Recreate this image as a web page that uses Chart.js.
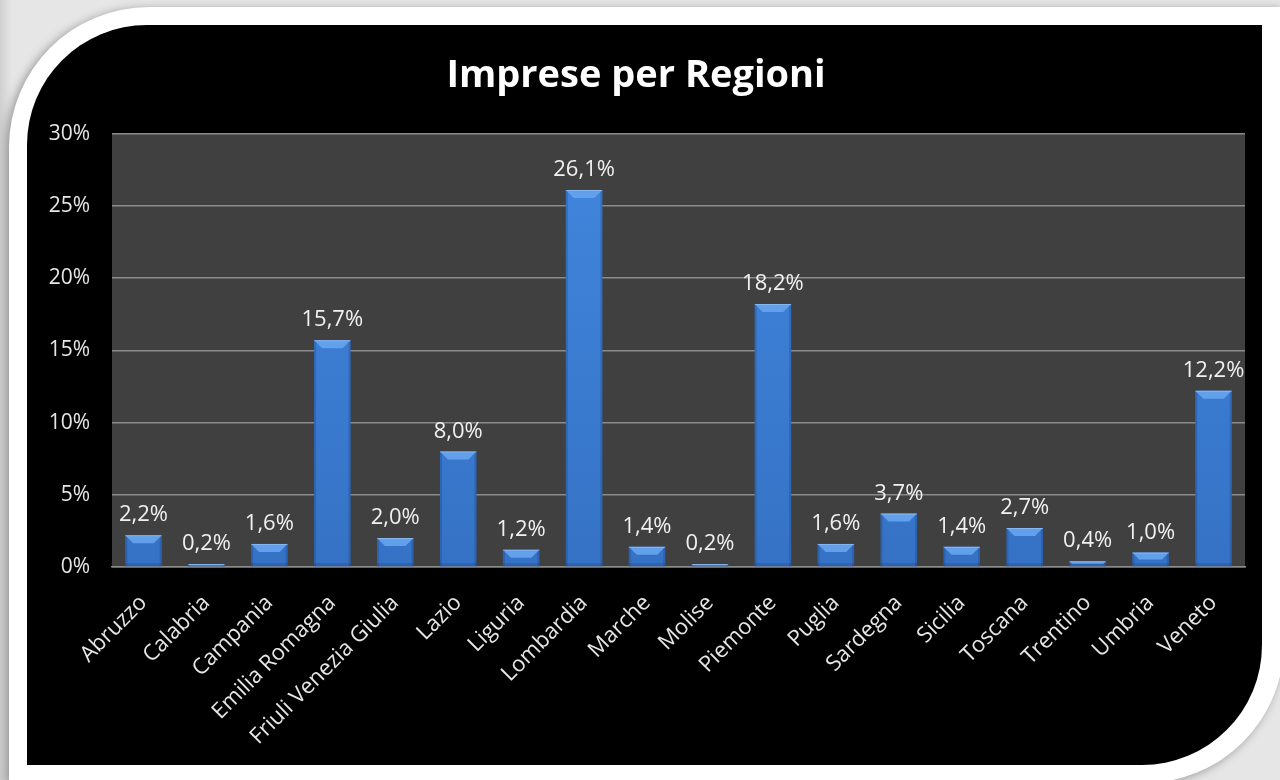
<!DOCTYPE html>
<html>
<head>
<meta charset="utf-8">
<script src="https://cdn.jsdelivr.net/npm/chart.js@4.4.0/dist/chart.umd.min.js"></script>
<style>
  html, body { margin: 0; padding: 0; }
  body {
    width: 1280px; height: 780px; overflow: hidden;
    background: linear-gradient(90deg, #cfcfcf 0px, #e6e6e6 12px, #e6e6e6 100%);
    position: relative;
  }
  #card {
    position: absolute; left: 9px; top: 7px; width: 1275px; height: 776px;
    background: #fff;
    border-radius: 140px 0 140px 0;
    box-shadow: -3px 2px 10px rgba(0,0,0,0.35);
  }
  #panel {
    position: absolute; left: 27px; top: 25px; width: 1235px; height: 740px;
    background: #000;
    border-radius: 120px 0 120px 0;
  }
  #panel canvas { position: absolute; left: 0; top: 0; }
</style>
</head>
<body>
<div id="card"></div>
<div id="panel"><canvas id="chart" width="1235" height="740"></canvas></div>
<script>
const regions = ['Abruzzo', 'Calabria', 'Campania', 'Emilia Romagna', 'Friuli Venezia Giulia',
  'Lazio', 'Liguria', 'Lombardia', 'Marche', 'Molise', 'Piemonte', 'Puglia', 'Sardegna',
  'Sicilia', 'Toscana', 'Trentino', 'Umbria', 'Veneto'];
const shares = [2.2, 0.2, 1.6, 15.7, 2.0, 8.0, 1.2, 26.1, 1.4, 0.2, 18.2, 1.6, 3.7, 1.4, 2.7, 0.4, 1.0, 12.2];
const yTicks = [0, 5, 10, 15, 20, 25, 30];

const FONT = '"Open Sans", "DejaVu Sans", sans-serif';
const fmt = v => v.toFixed(1).replace('.', ',') + '%';

// dark plot background
const plotBg = {
  id: 'plotBg',
  beforeDraw(chart) {
    const { ctx, chartArea: a } = chart;
    ctx.save();
    ctx.fillStyle = '#404040';
    ctx.fillRect(a.left, a.top, a.right - a.left, a.bottom - a.top);
    ctx.restore();
  }
};

// bevelled bars + value labels
const bevel = {
  id: 'bevel',
  afterDatasetsDraw(chart) {
    const ctx = chart.ctx;
    const meta = chart.getDatasetMeta(0);
    meta.data.forEach((bar, i) => {
      const l = bar.x - bar.width / 2, r = bar.x + bar.width / 2;
      const t = bar.y, b = bar.base;
      const h = b - t;
      const bv = Math.min(8, h / 2);
      ctx.save();
      // soft darker edges
      ctx.fillStyle = 'rgba(20,50,110,0.25)';
      ctx.fillRect(l, t, 2, h);
      ctx.fillRect(r - 2, t, 2, h);
      ctx.fillRect(l, b - 3, r - l, 3);
      // top bevel
      ctx.fillStyle = '#62a0ec';
      ctx.beginPath();
      ctx.moveTo(l, t); ctx.lineTo(r, t); ctx.lineTo(r - bv, t + bv); ctx.lineTo(l + bv, t + bv);
      ctx.closePath(); ctx.fill();
      ctx.fillStyle = 'rgba(255,255,255,0.25)';
      ctx.fillRect(l, t, r - l, 1);
      // label
      ctx.fillStyle = '#f0f0f0';
      ctx.font = '22px ' + FONT;
      ctx.textAlign = 'center';
      ctx.textBaseline = 'bottom';
      ctx.fillText(fmt(shares[i]), bar.x, t - 9);
      ctx.restore();
    });
  }
};

const ctx = document.getElementById('chart').getContext('2d');
new Chart(ctx, {
  type: 'bar',
  data: {
    labels: regions,
    datasets: [{
      data: shares,
      backgroundColor(c) {
        const area = c.chart.chartArea;
        if (!area) return '#3a7bd2';
        const g = c.chart.ctx.createLinearGradient(0, area.top, 0, area.bottom);
        g.addColorStop(0, '#4187de');
        g.addColorStop(1, '#3572c5');
        return g;
      },
      borderWidth: 0,
      barPercentage: 0.58,
      categoryPercentage: 1
    }]
  },
  options: {
    responsive: false,
    animation: false,
    layout: { padding: { left: 0, right: 17, top: 0, bottom: 0 } },
    plugins: {
      legend: { display: false },
      tooltip: { enabled: false },
      title: {
        display: true,
        text: 'Imprese per Regioni',
        color: '#ffffff',
        font: { family: FONT, size: 38, weight: 'bold' },
        padding: { top: 28, bottom: 35 }
      }
    },
    scales: {
      y: {
        min: 0, max: 30,
        afterBuildTicks(s) { s.ticks = yTicks.map(v => ({ value: v })); },
        afterFit(s) { s.width = 85; },
        grid: { color: '#8a8a8a', lineWidth: 1.5, drawTicks: false },
        border: { display: false },
        ticks: {
          color: '#e6e6e6',
          padding: 22,
          font: { family: FONT, size: 21 },
          callback: v => v + '%'
        }
      },
      x: {
        afterFit(s) { s.height = 198; },
        grid: { display: false },
        border: { color: '#8a8a8a', width: 1.5 },
        ticks: {
          color: '#e6e6e6',
          minRotation: 45, maxRotation: 45,
          padding: 15,
          font: { family: FONT, size: 22 }
        }
      }
    }
  },
  plugins: [plotBg, bevel]
});
</script>
</body>
</html>
